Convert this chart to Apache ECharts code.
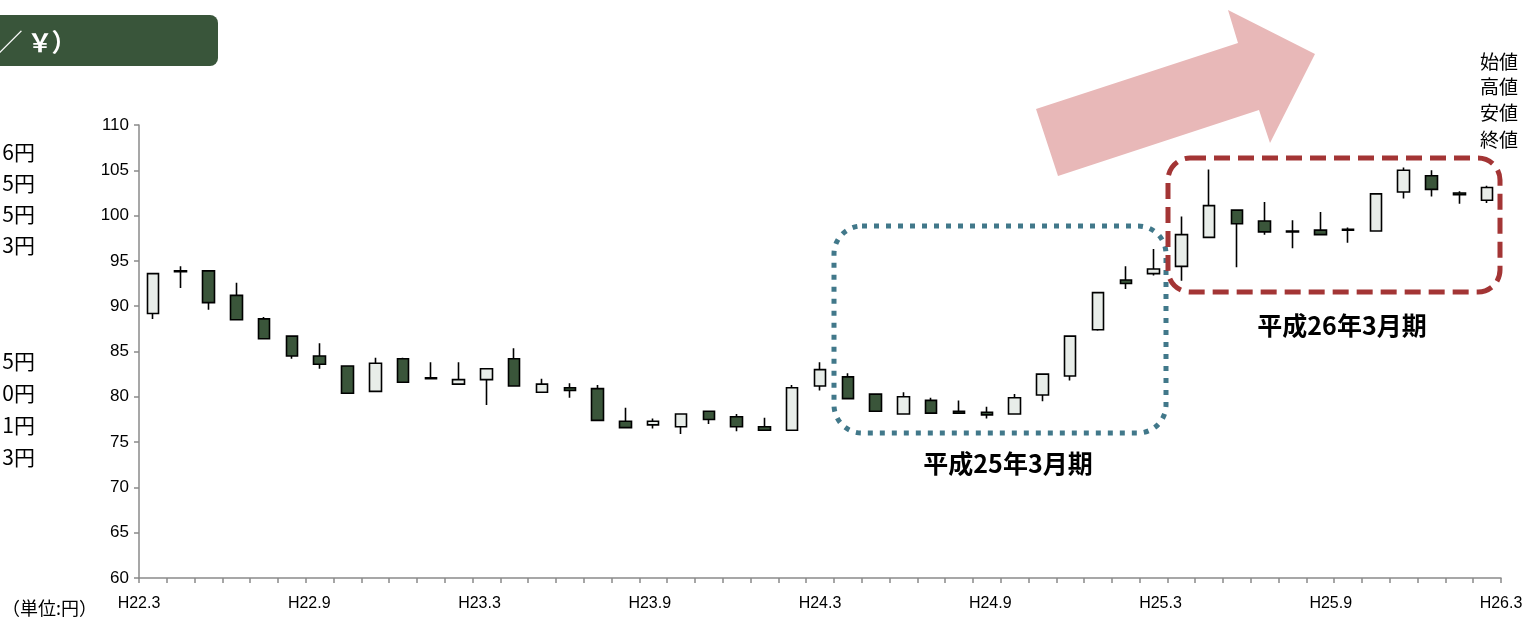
<!DOCTYPE html>
<html>
<head>
<meta charset="utf-8">
<script src="https://cdn.jsdelivr.net/npm/echarts@6/dist/echarts.min.js"></script>
<style>
html,body{margin:0;padding:0;background:#fff;}
#chart{width:1529px;height:620px;}
</style>
</head>
<body>
<div id="chart"></div>
<script>
// Months (categories)
var months = ['H22.3','H22.4','H22.5','H22.6','H22.7','H22.8','H22.9','H22.10','H22.11','H22.12','H23.1','H23.2',
  'H23.3','H23.4','H23.5','H23.6','H23.7','H23.8','H23.9','H23.10','H23.11','H23.12','H24.1','H24.2',
  'H24.3','H24.4','H24.5','H24.6','H24.7','H24.8','H24.9','H24.10','H24.11','H24.12','H25.1','H25.2',
  'H25.3','H25.4','H25.5','H25.6','H25.7','H25.8','H25.9','H25.10','H25.11','H25.12','H26.1','H26.2','H26.3'];
// OHLC values (yen per dollar)
var openVals  = [89.2,93.9,93.9,91.2,88.6,86.7,84.5,83.4,80.6,84.2,82.1,81.4,81.9,84.2,80.5,81.0,80.9,77.3,76.9,76.7,78.4,77.8,76.7,76.3,
  81.2,82.2,80.3,78.1,79.6,78.4,78.3,78.1,80.2,82.3,87.4,92.9,93.6,94.4,97.6,100.6,99.4,98.2,98.4,98.4,98.3,102.6,104.4,102.5,101.7];
var closeVals = [93.6,93.8,90.4,88.5,86.4,84.5,83.6,80.4,83.7,81.6,82.0,81.9,83.1,81.2,81.4,80.7,77.4,76.6,77.3,78.1,77.5,76.7,76.3,81.0,
  83.0,79.8,78.4,80.0,78.2,78.2,78.0,79.9,82.5,86.7,91.5,92.5,94.1,97.9,101.1,99.1,98.2,98.3,97.9,98.5,102.4,105.0,102.9,102.3,103.1];
var lowVals   = [88.6,92.0,89.6,88.5,86.4,84.2,83.1,80.4,80.6,81.6,82.0,81.4,79.1,81.2,80.5,79.9,77.4,76.6,76.5,75.9,77.0,76.2,76.3,76.3,
  80.7,79.8,78.4,78.1,78.2,78.1,77.6,78.1,79.5,81.8,87.3,91.9,93.4,92.8,97.6,94.3,97.9,96.4,97.9,97.0,98.3,101.9,102.1,101.3,101.4];
var highVals  = [93.6,94.4,93.9,92.6,88.8,86.7,85.9,83.4,84.3,84.3,83.8,83.8,83.1,85.35,82.0,81.5,81.3,78.8,77.6,78.1,78.4,78.1,77.7,81.3,
  83.8,82.6,80.4,80.5,79.9,79.6,78.9,80.3,82.5,86.7,91.5,94.4,96.3,99.9,105.1,100.6,101.5,99.5,100.4,98.7,102.4,105.3,105.0,102.7,103.3];
// Axis tick labels
var xTickLabels = ['H22.3','H22.9','H23.3','H23.9','H24.3','H24.9','H25.3','H25.9','H26.3'];
var yMin = 60, yMax = 110, yStep = 5;
// Partially visible side texts
var leftTextsTop = ['6円','5円','5円','3円'];
var leftTextsBottom = ['5円','0円','1円','3円'];
var legendTexts = ['始値','高値','安値','終値'];

var ohlc = months.map(function(m,i){ return [openVals[i], closeVals[i], lowVals[i], highVals[i]]; });

var dark = '#3A553A';
var jp = '"Noto Sans CJK JP", sans-serif';
var graphics = [];
// green title box (cut off at left)
graphics.push({type:'rect', shape:{x:-20,y:15,width:238,height:51,r:8}, style:{fill:'#39553A'}});
[['／',10],['￥',40],['）',64]].forEach(function(c){
  graphics.push({type:'text', x:c[1], y:42, style:{text:c[0], fill:'#fff', font:'bold 25px ' + jp, align:'center', verticalAlign:'middle'}});
});
// left cut-off texts
[152,183,214,245].forEach(function(y,i){
  graphics.push({type:'text', x:35, y:y, style:{text:leftTextsTop[i], fill:'#000', font:'21px ' + jp, align:'right', verticalAlign:'middle'}});
});
[361,393,425,457].forEach(function(y,i){
  graphics.push({type:'text', x:35, y:y, style:{text:leftTextsBottom[i], fill:'#000', font:'21px ' + jp, align:'right', verticalAlign:'middle'}});
});
// legend texts at top right
[62,87,113,140].forEach(function(y,i){
  graphics.push({type:'text', x:1499, y:y, style:{text:legendTexts[i], fill:'#000', font:'19px ' + jp, align:'center', verticalAlign:'middle'}});
});
// unit
graphics.push({type:'text', x:2, y:608, style:{text:'（単位:円）', fill:'#000', font:'18px ' + jp, verticalAlign:'middle'}});
// pink arrow
graphics.push({type:'polygon', shape:{points:[[1036,109],[1238,43],[1228,10],[1315,54],[1270,143],[1259,110],[1058,176]]}, style:{fill:'#E8B8B8'}, z:1});
// blue dotted box
graphics.push({type:'rect', shape:{x:834,y:226,width:332,height:207,r:28}, style:{fill:null, stroke:'#41788A', lineWidth:5, lineDash:[5,7]}, z:10});
// red dashed box
graphics.push({type:'rect', shape:{x:1168,y:158,width:332,height:134,r:22}, style:{fill:null, stroke:'#A33535', lineWidth:5, lineDash:[16,8]}, z:10});
// period labels
graphics.push({type:'text', x:1008, y:463, style:{text:'平成25年3月期', fill:'#000', font:'bold 25px ' + jp, align:'center', verticalAlign:'middle'}, z:10});
graphics.push({type:'text', x:1342, y:325, style:{text:'平成26年3月期', fill:'#000', font:'bold 25px ' + jp, align:'center', verticalAlign:'middle'}, z:10});

var chart = echarts.init(document.getElementById('chart'), null, {renderer:'canvas'});
chart.setOption({
  animation:false,
  backgroundColor:'#fff',
  grid:{left:139, right:28, top:125, bottom:42, containLabel:false},
  xAxis:[{
    type:'category', data:months, boundaryGap:true,
    axisLine:{lineStyle:{color:'#8a8a8a', width:1.5}},
    axisTick:{show:true, interval:0, length:5, lineStyle:{color:'#8a8a8a', width:1.5}},
    axisLabel:{show:false}, splitLine:{show:false}
  },{
    type:'value', min:0, max:8, interval:1, position:'bottom',
    axisLine:{show:false}, axisTick:{show:false}, splitLine:{show:false},
    axisLabel:{show:true, margin:18, color:'#000', fontSize:16, fontFamily:'Liberation Sans, Arial, sans-serif',
      formatter:function(v){ return xTickLabels[Math.round(v)] || ''; }}
  }],
  yAxis:{
    type:'value', min:yMin, max:yMax, interval:yStep,
    axisLine:{show:true, lineStyle:{color:'#8a8a8a', width:1.5}},
    axisTick:{show:true, length:5, lineStyle:{color:'#8a8a8a', width:1.5}},
    splitLine:{show:false},
    axisLabel:{color:'#000', fontSize:17, margin:10, fontFamily:'Liberation Sans, Arial, sans-serif'}
  },
  series:[{
    type:'candlestick', xAxisIndex:0, yAxisIndex:0, data:ohlc, barWidth:12,
    itemStyle:{color:'#E8EDE9', color0:dark, borderColor:'#000', borderColor0:'#000', borderWidth:1.6},
    z:5
  }],
  graphic:graphics
});
</script>
</body>
</html>
